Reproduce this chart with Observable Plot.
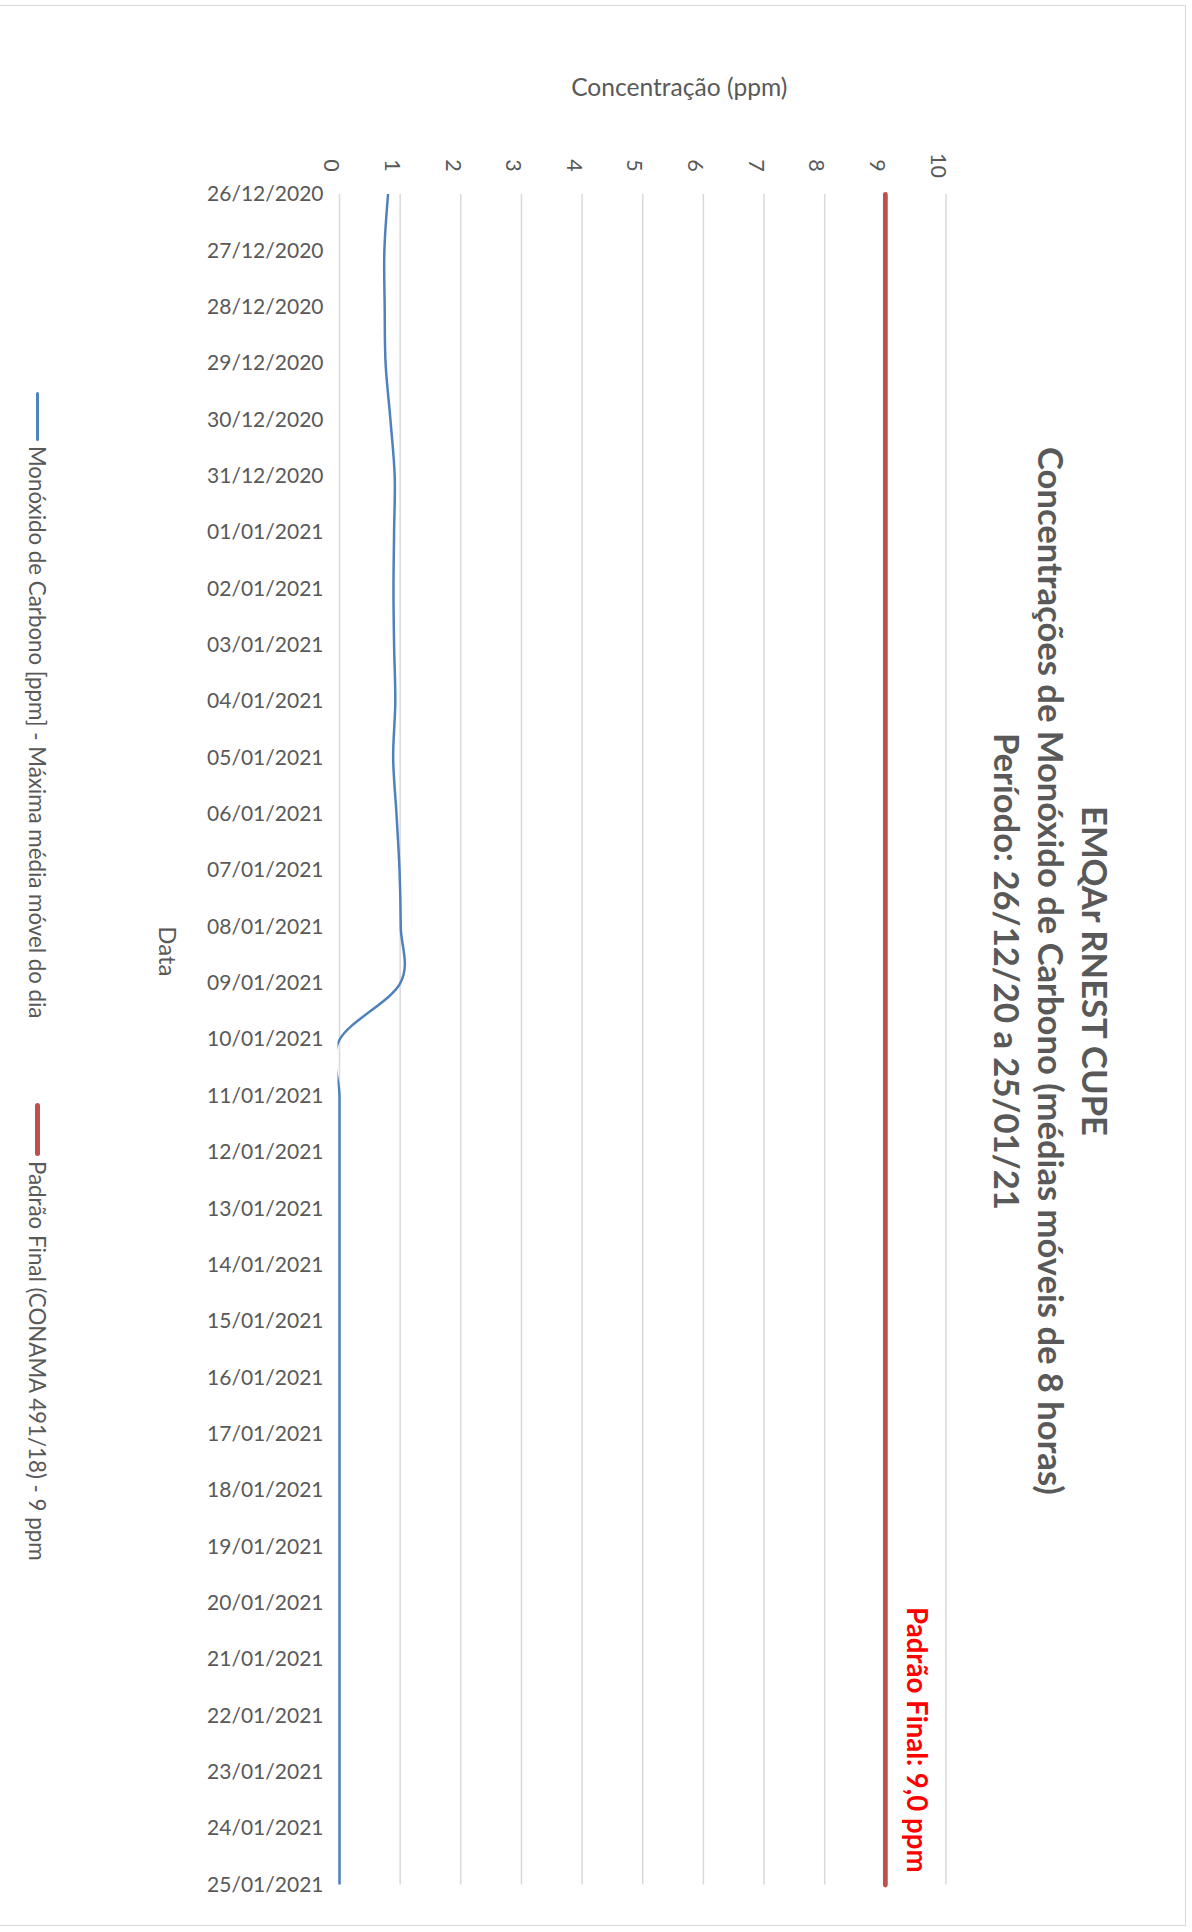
<!DOCTYPE html>
<html>
<head>
<meta charset="utf-8">
<script src="https://cdn.jsdelivr.net/npm/d3@7"></script>
<script src="https://cdn.jsdelivr.net/npm/@observablehq/plot@0.6"></script>
<style>
  body { margin: 0; background: #fff; font-family: Lato, "Open Sans", sans-serif; }
  #wrap { position: relative; width: 1192px; height: 1932px; overflow: hidden; background: #fff; }
  #wrap svg { position: absolute; left: 0; top: 0; }
  #frame { position: absolute; left: -10px; top: 5px; width: 1196px; height: 1921px; border: 1.5px solid #d9d9d9; box-sizing: border-box; pointer-events: none; }
  #title { position: absolute; left: 985px; top: 371px; width: 132px; height: 1200px; writing-mode: vertical-rl; text-align: center; font-family: Lato, sans-serif; font-weight: bold; font-size: 34.6px; line-height: 44px; color: #595959; white-space: nowrap; }
  .leg { position: absolute; left: 17px; width: 40px; height: 900px; writing-mode: vertical-rl; display: flex; align-items: center; font-family: Lato, sans-serif; font-size: 22.3px; color: #595959; white-space: nowrap; }
  .sw { margin-inline-end: 5px; }
</style>
</head>
<body>
<div id="wrap">
  <div id="title"></div>
  <div id="legend"></div>
  <div id="frame"></div>
</div>
<script>
// ---- data ----
const dates = [
  "26/12/2020","27/12/2020","28/12/2020","29/12/2020","30/12/2020","31/12/2020",
  "01/01/2021","02/01/2021","03/01/2021","04/01/2021","05/01/2021","06/01/2021",
  "07/01/2021","08/01/2021","09/01/2021","10/01/2021","11/01/2021","12/01/2021",
  "13/01/2021","14/01/2021","15/01/2021","16/01/2021","17/01/2021","18/01/2021",
  "19/01/2021","20/01/2021","21/01/2021","22/01/2021","23/01/2021","24/01/2021",
  "25/01/2021"
];
const monoxido = [
  0.80, 0.74, 0.745, 0.76, 0.84, 0.91,
  0.90, 0.89, 0.90, 0.92, 0.885, 0.94,
  0.99, 1.01, 1.00, 0, 0, 0,
  0, 0, 0, 0, 0, 0,
  0, 0, 0, 0, 0, 0,
  0
];
const padraoFinal = dates.map(() => 9);
const xTicks = [0, 1, 2, 3, 4, 5, 6, 7, 8, 9, 10];

const titleLines = [
  "EMQAr RNEST CUPE",
  "Concentrações de Monóxido de Carbono (médias móveis de 8 horas)",
  "Período: 26/12/20 a 25/01/21"
];
const xLabel = "Concentração (ppm)";
const yLabel = "Data";
const padraoLabel = "Padrão Final: 9,0 ppm";
const padraoValue = 9;
const seriesNames = [
  "Monóxido de Carbono [ppm] - Máxima média móvel do dia",
  "Padrão Final (CONAMA 491/18) - 9 ppm"
];
const seriesColors = ["#4f81bd", "#c0504d"];

// ---- build ----
const rows = dates.map((d, i) => ({date: d, co: monoxido[i], padrao: padraoFinal[i]}));

const chart = Plot.plot({
  width: 1192,
  height: 1932,
  marginTop: 194,
  marginBottom: 47.5,
  marginLeft: 339,
  marginRight: 246.5,
  style: {fontFamily: "Lato, sans-serif", fontSize: "21px", color: "#595959", background: "transparent"},
  x: {domain: [0, 10], axis: null},
  y: {type: "point", domain: dates, padding: 0, round: false, tickSize: 0, tickPadding: 16, label: null},
  marks: [
    Plot.gridX(xTicks, {stroke: "#d9d9d9", strokeOpacity: 1, strokeWidth: 1.5}),
    Plot.text(xTicks, {x: d => d, text: d => String(d), frameAnchor: "top", dy: -29, rotate: 90, fontSize: 21.5}),
    Plot.line(rows, {x: "padrao", y: "date", stroke: seriesColors[1], strokeWidth: 4.8, strokeLinecap: "round"}),
    Plot.line(rows, {x: "co", y: "date", curve: "cardinal", stroke: seriesColors[0], strokeWidth: 2.5, clip: true}),
    Plot.text([padraoLabel], {x: () => padraoValue, frameAnchor: "bottom", text: d => d, rotate: 90, textAnchor: "end", dx: 22, dy: -12.5, fill: "#ff0000", fontWeight: "bold", fontSize: 27.6}),
    Plot.text([xLabel], {frameAnchor: "top", text: d => d, dx: 36.5, dy: -116, fontSize: 24.6}),
    Plot.text([yLabel], {frameAnchor: "left", text: d => d, rotate: 90, dx: -173, dy: -113.5, fontSize: 24})
  ]
});

// extend the clip region slightly so a line at exactly 0 is drawn in full
d3.select(chart).selectAll("clipPath rect").each(function() {
  const r = d3.select(this);
  const x = +r.attr("x"), w = +r.attr("width");
  if (!isNaN(x) && !isNaN(w)) r.attr("x", x - 1.5).attr("width", w + 1.5);
});

document.getElementById("wrap").insertBefore(chart, document.getElementById("title"));

// title
const t = document.getElementById("title");
titleLines.forEach(s => { const d = document.createElement("div"); d.textContent = s; t.appendChild(d); });

// legend
const legend = document.getElementById("legend");
const legTops = [392, 1103];
const swLen = [49, 53];
const swThick = [3, 5];
seriesNames.forEach((name, i) => {
  const item = document.createElement("div");
  item.className = "leg";
  item.style.top = legTops[i] + "px";
  const sw = document.createElement("div");
  sw.className = "sw";
  sw.style.inlineSize = swLen[i] + "px";
  sw.style.blockSize = swThick[i] + "px";
  sw.style.background = seriesColors[i];
  sw.style.borderRadius = (swThick[i] / 2) + "px";
  const tx = document.createElement("span");
  tx.textContent = name;
  item.appendChild(sw);
  item.appendChild(tx);
  legend.appendChild(item);
});
</script>
</body>
</html>
